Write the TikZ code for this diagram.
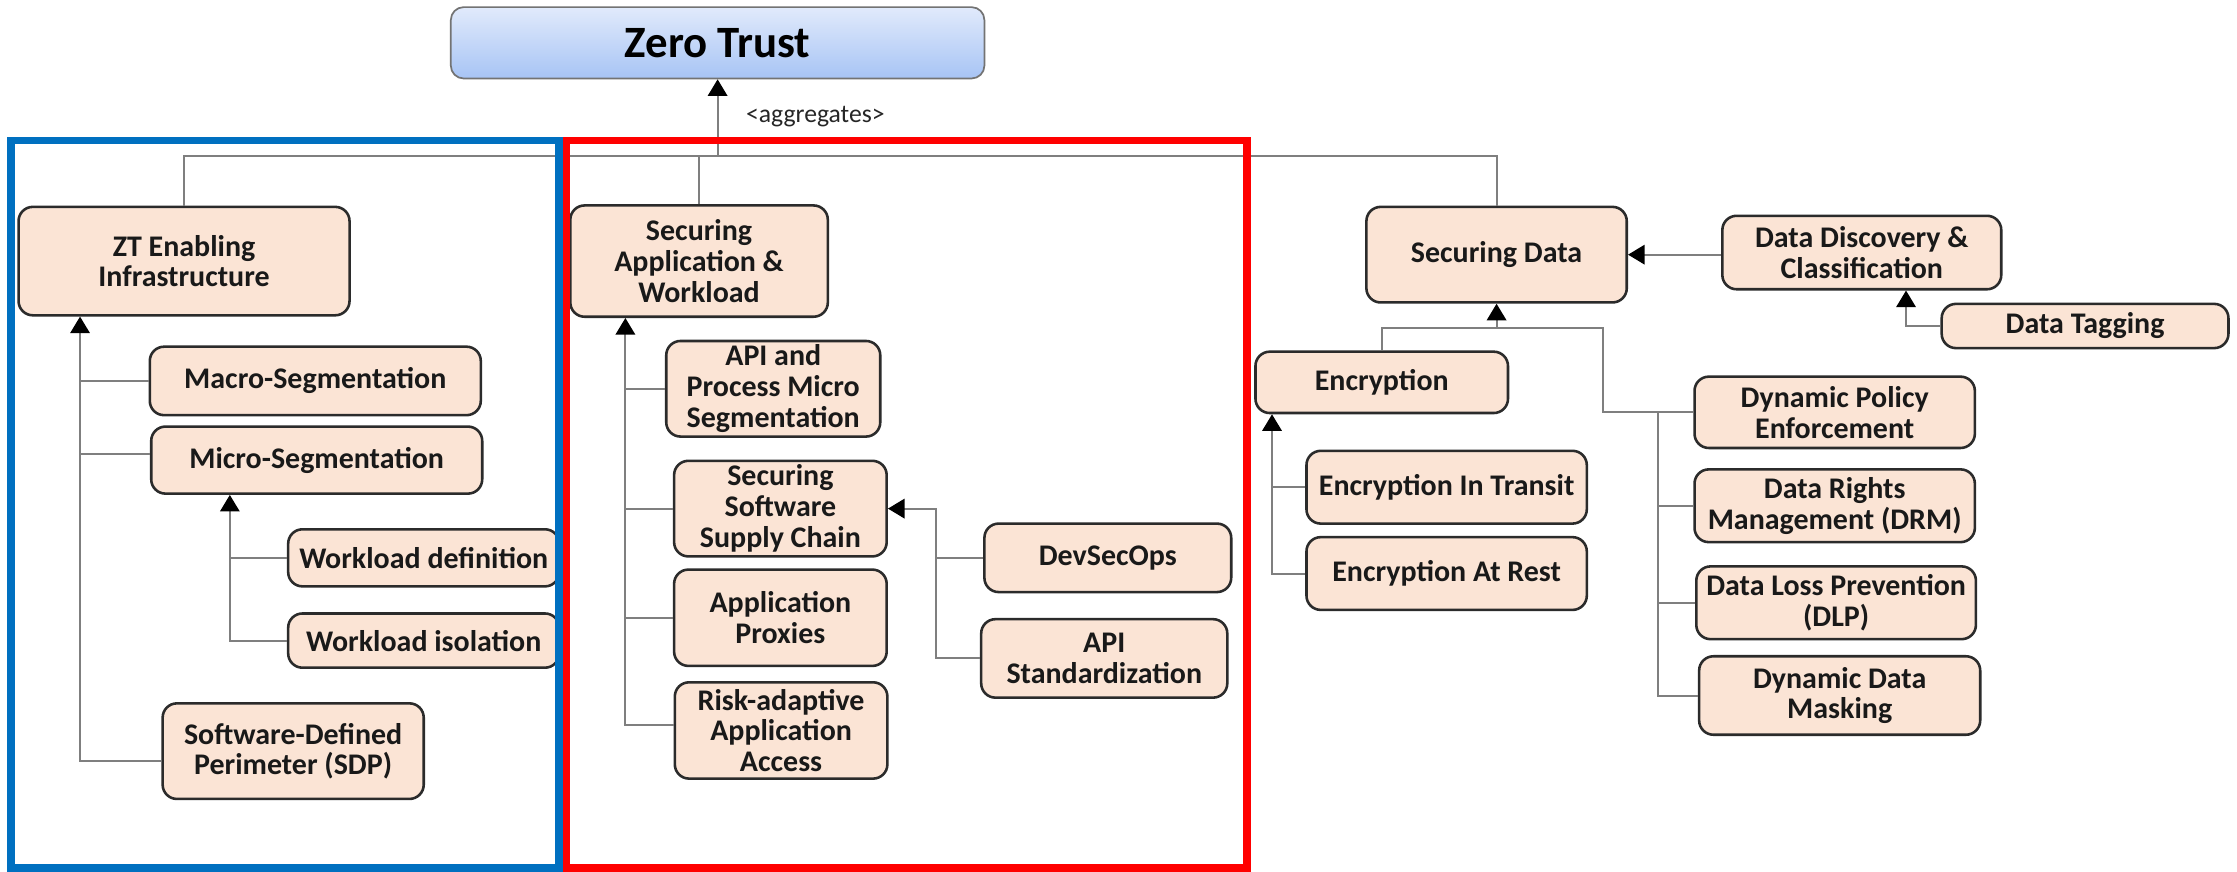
\documentclass[tikz,border=0pt]{standalone}
\usepackage{fontspec}
\setmainfont{Carlito}
\usetikzlibrary{arrows.meta,calc}

\definecolor{boxfill}{HTML}{FBE4D5}
\definecolor{boxline}{HTML}{2B2B2B}
\definecolor{wiregray}{HTML}{7F7F7F}
\definecolor{ztTop}{HTML}{E1EAFB}
\definecolor{ztBot}{HTML}{A7C4F5}
\definecolor{frameBlue}{HTML}{0070C0}
\definecolor{frameRed}{HTML}{FF0000}

\tikzset{
  sz/.style 2 args={minimum width=#1*0.5pt, minimum height=#2*0.5pt},
  item/.style={draw=boxline, fill=boxfill, line width=0.9pt, rounded corners=5pt,
    inner sep=0pt, align=center, text=black!90,
    font=\bfseries\fontsize{10.5}{10.8}\selectfont},
  link/.style={draw=wiregray, line width=0.7pt},
  feed/.style={link, -{Triangle[length=5.8pt,width=6.8pt,color=black]}},
  frame/.style={line width=2.7pt},
}

\begin{document}
\begin{tikzpicture}[x=0.5pt,y=-0.5pt]
\useasboundingbox (0,0) rectangle (1568,611);
\fill[white] (0,0) rectangle (1568,611);

% root
\node[draw=black!55, line width=0.6pt, top color=ztTop, bottom color=ztBot,
      rounded corners=4.5pt, sz={374}{50}, inner sep=0pt,
      font=\bfseries\fontsize{15.7}{18}\selectfont] (zt) at (503,30) {Zero Trust};
\node[font=\fontsize{9}{10}\selectfont, text=black!85] (agg) at (571.5,82) {<aggregates>};

% ZT enabling infrastructure
\node[item, sz={232}{76}] (zte) at (129,183) {ZT Enabling\\Infrastructure};
\node[item, sz={232}{48}] (macro) at (221,267) {Macro-Segmentation};
\node[item, sz={232}{47}] (micro) at (222,322.5) {Micro-Segmentation};
\node[item, sz={190}{40}] (wdef) at (297,391) {Workload definition};
\node[item, sz={190}{38}] (wiso) at (297,449) {Workload isolation};
\node[item, sz={183}{67}] (sdp) at (205.5,526.5) {Software-Defined\\Perimeter (SDP)};

% application & workload
\node[item, sz={180.5}{78}] (sapp) at (490,183) {Securing\\Application \&\\Workload};
\node[item, sz={150}{67}] (api) at (542,272.5) {API and\\Process Micro\\Segmentation};
\node[item, sz={149}{67}] (sssc) at (547,356.5) {Securing\\Software\\Supply Chain};
\node[item, sz={149}{67.5}] (proxies) at (547,433) {Application\\Proxies};
\node[item, sz={149}{67.5}] (risk) at (547.5,512) {Risk-adaptive\\Application\\Access};
\node[item, sz={173}{48}] (devsec) at (776.5,391) {DevSecOps};
\node[item, sz={172.5}{55}] (apistd) at (774,461.5) {API\\Standardization};

% data
\node[item, sz={182.5}{67}] (sdata) at (1049,178.5) {Securing Data};
\node[item, sz={195.5}{51.5}] (ddc) at (1305,177) {Data Discovery \&\\Classification};
\node[item, sz={201}{31}] (tag) at (1461.5,228.5) {Data Tagging};
\node[item, sz={177}{43}] (enc) at (968.5,268) {Encryption};
\node[item, sz={196.5}{51}] (transit) at (1014,341.5) {Encryption In Transit};
\node[item, sz={196.5}{51}] (rest) at (1014,402) {Encryption At Rest};
\node[item, sz={196.5}{50}] (dpe) at (1286,289) {Dynamic Policy\\Enforcement};
\node[item, sz={196.5}{51}] (drm) at (1286,354.5) {Data Rights\\Management (DRM)};
\node[item, sz={196}{51}] (dlp) at (1287,422.5) {Data Loss Prevention\\(DLP)};
\node[item, sz={197}{55}] (ddm) at (1289.5,487.5) {Dynamic Data\\Masking};

% junction points
\path (zt.south) ++(0,54) coordinate (bus);
\path (zte.south west) ++(44,0) coordinate (zteIn);
\path (micro.south west) ++(56,0) coordinate (microIn);
\path (sapp.south west) ++(39.5,0) coordinate (sappIn);
\path (sssc.east) ++(34,0) coordinate (ssscIn);
\path (sdata.south) ++(0,17) coordinate (sdJ);
\path (ddc.south) ++(31,0) coordinate (ddcIn);
\path (enc.south west) ++(12.5,0) coordinate (encIn);
\path (dpe.west) ++(-63.5,0) coordinate (dpeJ);
\path (dpe.west) ++(-24.5,0) coordinate (dpeT);

% top-level aggregation
\draw[link] (zte.north) |- (sdata.north |- bus) -- (sdata.north);
\draw[link] (sapp.north) -- (sapp.north |- bus);
\draw[feed] (bus) -- (zt.south);

% infrastructure branch
\draw[feed] ([yshift=-3.5pt]sdp.west) -| (zteIn);
\draw[link] (macro.west) -- (macro.west -| zteIn);
\draw[link] ([yshift=2.2pt]micro.west) -- ([yshift=2.2pt]micro.west -| zteIn);
\draw[feed] (wiso.west) -| (microIn);
\draw[link] (wdef.west) -- (wdef.west -| microIn);

% application branch
\draw[feed] ([yshift=2pt]risk.west) -| (sappIn);
\draw[link] (api.west) -- (api.west -| sappIn);
\draw[link] (sssc.west) -- (sssc.west -| sappIn);
\draw[link] (proxies.west) -- (proxies.west -| sappIn);
\draw[feed] (apistd.west) -| (ssscIn) -- (sssc.east);
\draw[link] (devsec.west) -- (devsec.west -| ssscIn);

% data branch
\draw[feed] (sdata.east -| ddc.west) -- (sdata.east);
\draw[feed] (tag.west) -| (ddcIn);
\draw[link] (enc.north) |- (sdJ) -| (dpeJ) -- (dpe.west);
\draw[feed] (sdJ) -- (sdata.south);
\draw[link] (dpeT) |- (ddm.west);
\draw[link] (drm.west) -- (drm.west -| dpeT);
\draw[link] (dlp.west) -- (dlp.west -| dpeT);
\draw[feed] (rest.west) -| (encIn);
\draw[link] (transit.west) -- (transit.west -| encIn);

% group frames
\draw[frame, frameBlue] (7.5,98.5) rectangle (392,608.5);
\draw[frame, frameRed] (397,98.5) rectangle (874,608.5);
\end{tikzpicture}
\end{document}
